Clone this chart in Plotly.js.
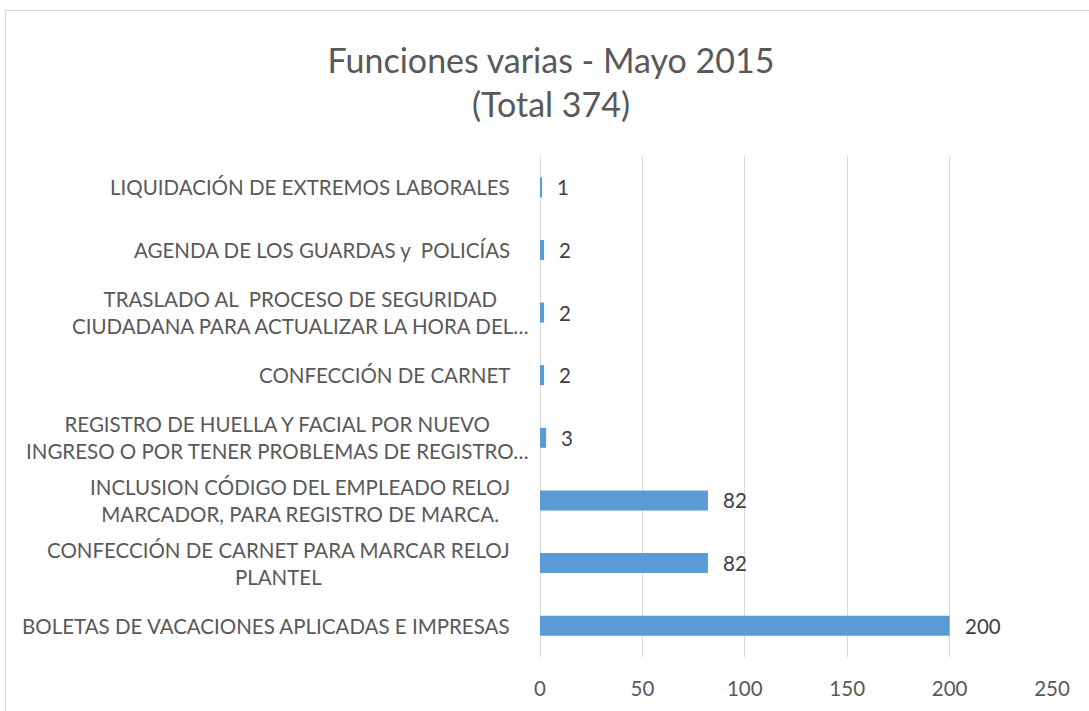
<!DOCTYPE html>
<html>
<head>
<meta charset="utf-8">
<script src="https://cdn.plot.ly/plotly-3.0.1.min.js"></script>
<style>
  html, body { margin: 0; padding: 0; background: #fff; }
  #frame { position: absolute; left: 5px; top: 10px; width: 1100px; height: 720px; border: 1px solid #d9d9d9; box-sizing: border-box; }
  #chart { position: absolute; left: 0; top: 0; width: 1089px; height: 711px; }
</style>
</head>
<body>
<div id="frame"></div>
<div id="chart"></div>
<script>
const categories = [
  "BOLETAS DE VACACIONES APLICADAS E IMPRESAS",
  "CONFECCIÓN DE CARNET PARA MARCAR RELOJ<br>PLANTEL",
  "INCLUSION CÓDIGO DEL EMPLEADO RELOJ<br>MARCADOR, PARA REGISTRO DE MARCA.",
  "REGISTRO DE HUELLA Y FACIAL POR NUEVO<br>INGRESO O POR TENER PROBLEMAS DE REGISTRO…",
  "CONFECCIÓN DE CARNET",
  "TRASLADO AL  PROCESO DE SEGURIDAD<br>CIUDADANA PARA ACTUALIZAR LA HORA DEL…",
  "AGENDA DE LOS GUARDAS y  POLICÍAS",
  "LIQUIDACIÓN DE EXTREMOS LABORALES"
];
const values = [200, 82, 82, 3, 2, 2, 2, 1];
const xTicks = [0, 50, 100, 150, 200, 250];

const FONT = "Lato, 'Open Sans', sans-serif";
const ids = categories.map((c, i) => i);

const trace = {
  type: 'bar',
  orientation: 'h',
  x: values,
  y: ids,
  marker: { color: '#5B9BD5' },
  hoverinfo: 'x'
};

const catAnn = categories.map((c, i) => ({
  xref: 'paper', yref: 'y', x: 0, y: i,
  xanchor: 'right', yanchor: 'middle', align: 'center',
  xshift: c.indexOf('…') >= 0 ? -9 : -28, text: c, showarrow: false,
  font: { family: FONT, size: 20.5, color: '#595959' }
}));
const valAnn = values.map((v, i) => ({
  xref: 'x', yref: 'y', x: v, y: i,
  xanchor: 'left', yanchor: 'middle', xshift: 13,
  text: String(v), showarrow: false,
  font: { family: FONT, size: 20.5, color: '#404040' }
}));

const layout = {
  width: 1089, height: 711,
  margin: { l: 540, r: 37, t: 156, b: 54 },
  paper_bgcolor: 'rgba(0,0,0,0)',
  plot_bgcolor: 'rgba(0,0,0,0)',
  bargap: 0.68,
  showlegend: false,
  title: {
    text: 'Funciones varias - Mayo 2015<br>(Total 374)',
    font: { family: FONT, size: 34, color: '#595959' },
    xref: 'container', x: 551 / 1089, xanchor: 'center',
    yref: 'container', y: 1 - 73 / 711, yanchor: 'top'
  },
  xaxis: {
    range: [0, 250],
    tickvals: xTicks,
    showgrid: true, gridcolor: '#d9d9d9', gridwidth: 1,
    zeroline: true, zerolinecolor: '#d9d9d9', zerolinewidth: 1,
    showline: false, ticks: '',
    ticklabelstandoff: 17,
    tickfont: { family: FONT, size: 20.5, color: '#595959' }
  },
  yaxis: {
    type: 'linear',
    range: [-0.5, categories.length - 0.5],
    showticklabels: false, showgrid: false, zeroline: false, ticks: ''
  },
  annotations: catAnn.concat(valAnn)
};

Plotly.newPlot('chart', [trace], layout, { displayModeBar: false, staticPlot: true });
</script>
</body>
</html>
